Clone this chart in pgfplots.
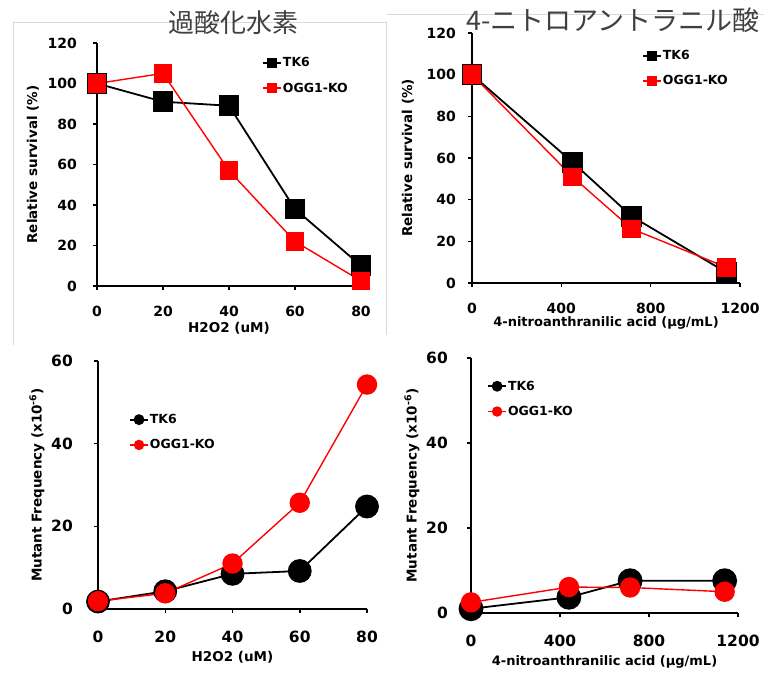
\documentclass[border=0pt]{standalone}
\usepackage{fontspec}
\setmainfont{DejaVu Sans}
\newfontfamily\jp{Noto Sans CJK JP}
\usepackage{pgfplots}
\pgfplotsset{compat=1.18}
\definecolor{titlegray}{HTML}{404040}
\definecolor{framegray}{HTML}{D9D9D9}
\pgfplotsset{
  panel/.style={
    scale only axis, clip=false,
    axis x line=bottom, axis y line=left,
    axis line style={-, line width=1.6bp, black},
    tick align=outside, major tick length=4bp,
    tick style={line width=1.5bp, black},
    /pgf/number format/assume math mode=true,
    /pgf/number format/1000 sep={},
    xticklabel style={anchor=north, inner sep=0pt},
    yticklabel style={anchor=east, inner sep=0pt},
    legend cell align=left,
    legend style={draw=none, fill=none, inner sep=0pt, row sep=12.5bp,
      font=\bfseries\fontsize{12.5bp}{14bp}\selectfont,
      nodes={inner sep=1bp}},
    legend image code/.code={\draw[mark repeat=2, mark phase=2, #1] plot coordinates {(0bp,0bp) (9bp,0bp) (18bp,0bp)};},
  },
  tk/.style={black, line width=1.8bp, mark options={solid}},
  ko/.style={red, line width=1.4bp, mark options={solid}},
}
\begin{document}
\begin{tikzpicture}[x=1bp, y=1bp]
\path[use as bounding box] (0,0) rectangle (764,673);
% light frames
\draw[framegray, line width=0.8bp] (13,328) -- (13,651) -- (386,651) -- (386,338);
\draw[framegray, line width=0.8bp] (387,659) -- (764,659);
% titles
\node[text=titlegray, font=\jp\fontsize{26bp}{28bp}\selectfont] at (233,650) {過酸化水素};
\node[text=titlegray, font=\jp\fontsize{27bp}{29bp}\selectfont, anchor=west] at (463,653) {4-ニトロアントラニル酸};

% Panel 1
\begin{axis}[panel, at={(97bp,387bp)}, anchor=south west,
  width=264bp, height=243bp, xmin=0, xmax=80, ymin=0, ymax=120,
  xtick={0,20,40,60,80}, ytick={0,20,40,60,80,100,120},
  tick label style={font=\bfseries\fontsize{14bp}{16bp}\selectfont},
  xticklabel style={yshift=-16bp}, yticklabel style={xshift=-16bp},
  xlabel={H2O2 (uM)}, ylabel={Relative survival (\%)},
  every axis x label/.style={at={(axis description cs:0.5,0)}, yshift=-42bp, anchor=center, font=\bfseries\fontsize{13.5bp}{15bp}\selectfont},
  every axis y label/.style={at={(axis description cs:0,0.5)}, xshift=-64bp, rotate=90, anchor=center, font=\bfseries\fontsize{13.5bp}{15bp}\selectfont},
  legend style={at={(axis description cs:0.625,0.945)}, anchor=north west},
  legend image post style={mark size=4bp},
]
\addplot[tk, mark=square*, mark size=9.5bp] coordinates {(0,100) (20,91) (40,89) (60,38) (80,10)};
\addplot[ko, mark=square*, mark size=8.5bp] coordinates {(0,100) (20,105) (40,57) (60,22) (80,2.5)};
\legend{TK6, OGG1-KO}
\end{axis}

% Panel 2
\begin{axis}[panel, at={(472bp,390bp)}, anchor=south west,
  width=268bp, height=250bp, xmin=0, xmax=1200, ymin=0, ymax=120,
  xtick={0,400,800,1200}, ytick={0,20,40,60,80,100,120},
  tick label style={font=\bfseries\fontsize{14bp}{16bp}\selectfont},
  xticklabel style={yshift=-16bp}, yticklabel style={xshift=-12bp},
  xlabel={4-nitroanthranilic acid (µg/mL)}, ylabel={Relative survival (\%)},
  every axis x label/.style={at={(axis description cs:0.5,0)}, yshift=-40bp, anchor=center, font=\bfseries\fontsize{13bp}{15bp}\selectfont},
  every axis y label/.style={at={(axis description cs:0,0.5)}, xshift=-64bp, rotate=90, anchor=center, font=\bfseries\fontsize{13.5bp}{15bp}\selectfont},
  legend style={at={(axis description cs:0.634,0.935)}, anchor=north west},
  legend image post style={mark size=4bp},
]
\addplot[tk, mark=square*, mark size=9.5bp] coordinates {(0,100) (450,58) (715,32) (1140,5)};
\addplot[ko, mark=square*, mark size=8.5bp] coordinates {(0,100) (450,51) (715,26) (1140,7.5)};
\legend{TK6, OGG1-KO}
\end{axis}

% Panel 3
\begin{axis}[panel, at={(98bp,64bp)}, anchor=south west,
  width=269bp, height=248bp, xmin=0, xmax=80, ymin=0, ymax=60,
  xtick={0,20,40,60,80}, ytick={0,20,40,60},
  tick label style={font=\bfseries\fontsize{15.5bp}{17bp}\selectfont},
  xticklabel style={yshift=-18bp}, yticklabel style={xshift=-21bp},
  xlabel={H2O2 (uM)}, ylabel={Mutant Frequency (x10\textsuperscript{-6})},
  every axis x label/.style={at={(axis description cs:0.5,0)}, yshift=-48bp, anchor=center, font=\bfseries\fontsize{13.5bp}{15bp}\selectfont},
  every axis y label/.style={at={(axis description cs:0,0.5)}, xshift=-61bp, rotate=90, anchor=center, font=\bfseries\fontsize{13.5bp}{15bp}\selectfont},
  legend style={at={(axis description cs:0.115,0.79)}, anchor=north west},
  legend image post style={mark size=4.5bp},
]
\addplot[tk, mark=*, mark size=11bp] coordinates {(0,1.8) (20,4.3) (40,8.5) (60,9.2) (80,24.8)};
\addplot[ko, mark=*, mark size=9.5bp] coordinates {(0,1.9) (20,3.8) (40,11) (60,25.7) (80,54.3)};
\legend{TK6, OGG1-KO}
\end{axis}

% Panel 4
\begin{axis}[panel, at={(471bp,60bp)}, anchor=south west,
  width=267bp, height=255bp, xmin=0, xmax=1200, ymin=0, ymax=60,
  xtick={0,400,800,1200}, ytick={0,20,40,60},
  tick label style={font=\bfseries\fontsize{15.5bp}{17bp}\selectfont},
  xticklabel style={yshift=-18bp}, yticklabel style={xshift=-19bp},
  xlabel={4-nitroanthranilic acid (µg/mL)}, ylabel={Mutant Frequency (x10\textsuperscript{-6})},
  every axis x label/.style={at={(axis description cs:0.5,0)}, yshift=-49bp, anchor=center, font=\bfseries\fontsize{13bp}{15bp}\selectfont},
  every axis y label/.style={at={(axis description cs:0,0.5)}, xshift=-59bp, rotate=90, anchor=center, font=\bfseries\fontsize{13.5bp}{15bp}\selectfont},
  legend style={at={(axis description cs:0.06,0.915)}, anchor=north west},
  legend image post style={mark size=4.5bp},
]
\addplot[tk, mark=*, mark size=11.5bp] coordinates {(0,1) (440,3.7) (715,7.6) (1140,7.6)};
\addplot[ko, mark=*, mark size=9.5bp] coordinates {(0,2.5) (440,6.1) (715,6) (1140,5)};
\legend{TK6, OGG1-KO}
\end{axis}
\end{tikzpicture}
\end{document}
